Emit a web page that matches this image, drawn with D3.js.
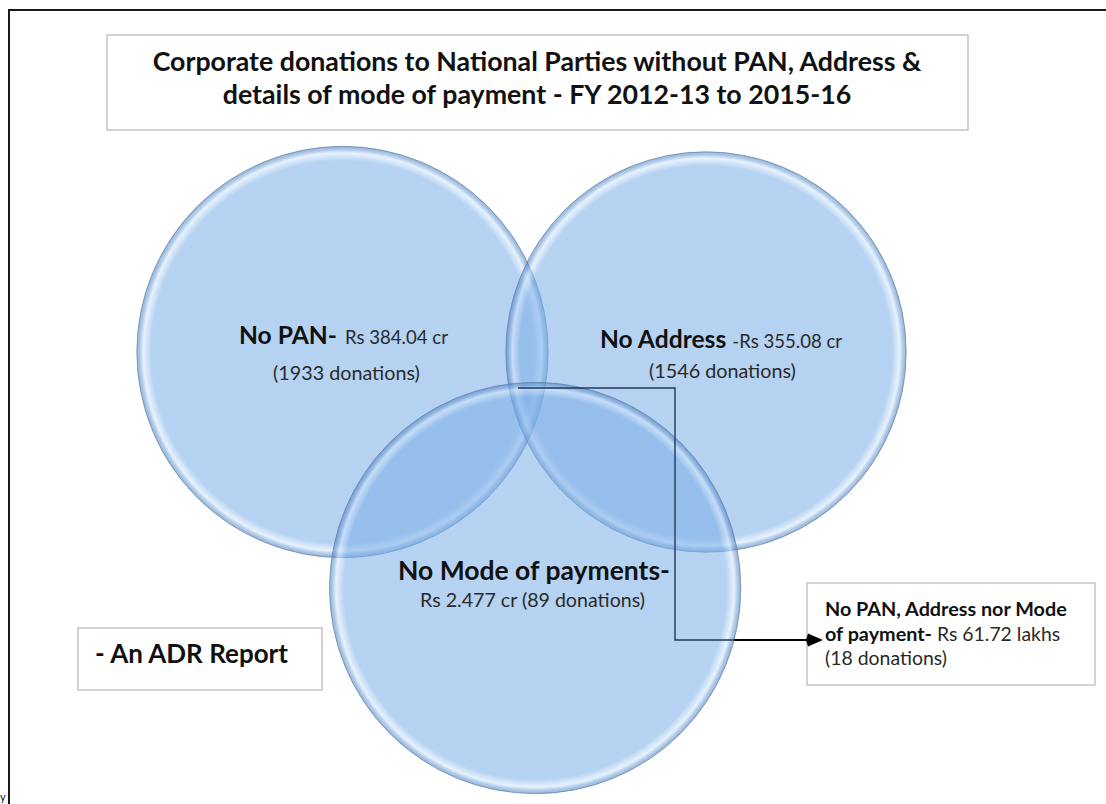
<!DOCTYPE html>
<html>
<head>
<meta charset="utf-8">
<script src="https://cdn.jsdelivr.net/npm/d3@7"></script>
<style>
  html, body { margin: 0; padding: 0; background: #fff; overflow: hidden; }
  svg { display: block; }
  text { font-family: Lato, "Open Sans", "DejaVu Sans", sans-serif; }
</style>
</head>
<body>
<svg id="chart" width="1106" height="804"></svg>
<script>
// ---------------- data ----------------
const TITLE_LINES = [
  "Corporate donations to National Parties without PAN, Address &",
  "details of mode of payment - FY 2012-13 to 2015-16"
];
const SET_NAMES = ["No PAN-", "No Address", "No Mode of payments-"];
const SET_AMOUNTS = ["Rs 384.04 cr", "-Rs 355.08 cr", "Rs 2.477 cr"];
const SET_DONATIONS = [1933, 1546, 89];
const ALL_THREE_NAME = ["No PAN, Address nor Mode", "of payment-"];
const ALL_THREE_AMOUNT = "Rs 61.72 lakhs";
const ALL_THREE_DONATIONS = 18;
const SOURCE_LABEL = "- An ADR Report";

// layout of the three (equal-size) Venn circles in abstract units
const CIRCLE_U = [-1, 1, 0.06];   // horizontal unit position
const CIRCLE_V = [0, 0, 1];       // vertical unit position
const CIRCLE_R = [1.13, 1.10, 1.13];

// ---------------- setup ----------------
const svg = d3.select("#chart");
const W = 1106, H = 804;

const x = d3.scaleLinear().domain([-1, 1]).range([342.5, 706]);
const y = d3.scaleLinear().domain([0, 1]).range([352, 588]);
const rs = d3.scaleLinear().domain([0, 1]).range([0, 182]);

function fit(sel, w) {
  const l = sel.node().getComputedTextLength();
  const fs = parseFloat(sel.attr("font-size"));
  sel.attr("font-size", fs * w / l);
  return fs * w / l;
}

// outer frame (top and left edges visible)
svg.append("line").attr("x1", 9).attr("y1", 10).attr("x2", W + 5).attr("y2", 10)
  .attr("stroke", "#1a1a1a").attr("stroke-width", 2);
svg.append("line").attr("x1", 9).attr("y1", 9).attr("x2", 9).attr("y2", H + 5)
  .attr("stroke", "#1a1a1a").attr("stroke-width", 2);
svg.append("text").attr("x", 0).attr("y", 801).attr("font-size", 11)
  .attr("fill", "#111").text("y");

// title box
svg.append("rect").attr("x", 107).attr("y", 35).attr("width", 861).attr("height", 95)
  .attr("fill", "#fff").attr("stroke", "#c4c4c4").attr("stroke-width", 1.5);
const t1 = svg.append("text").attr("x", 537).attr("y", 71).attr("text-anchor", "middle")
  .attr("font-weight", 700).attr("font-size", 22).attr("fill", "#111").text(TITLE_LINES[0]);
const titleFs = fit(t1, 769);
svg.append("text").attr("x", 537).attr("y", 104).attr("text-anchor", "middle")
  .attr("font-weight", 700).attr("font-size", titleFs).attr("fill", "#111").text(TITLE_LINES[1]);

// gradient for bevelled circles
const defs = svg.append("defs");
const grad = defs.append("radialGradient").attr("id", "bevel");
[
  [0, "rgb(122,174,231)"],
  [0.93, "rgb(122,174,231)"],
  [0.95, "rgb(170,205,242)"],
  [0.968, "rgb(212,230,250)"],
  [0.985, "rgb(108,158,216)"],
  [1, "rgb(70,112,168)"]
].forEach(([o, c]) => grad.append("stop").attr("offset", o).attr("stop-color", c));

const data = d3.range(3).map(i => ({
  name: SET_NAMES[i], amount: SET_AMOUNTS[i], n: SET_DONATIONS[i],
  cx: x(CIRCLE_U[i]), cy: y(CIRCLE_V[i]), r: rs(CIRCLE_R[i])
}));

// circles
svg.append("g").selectAll("circle").data(data).join("circle")
  .attr("cx", d => d.cx).attr("cy", d => d.cy).attr("r", d => d.r)
  .attr("fill", "url(#bevel)").attr("fill-opacity", 0.55)
  .attr("stroke", "rgb(95,130,175)").attr("stroke-opacity", 0.7).attr("stroke-width", 1);

// connector lines with arrow
const c3 = data[2];
const hx = c3.cx + Math.sqrt(c3.r * c3.r - 52 * 52);
svg.append("path")
  .attr("d", d3.line()([[518, 388], [675, 388], [675, 640], [hx, 640]]))
  .attr("fill", "none").attr("stroke", "#22395a").attr("stroke-width", 1.4);
svg.append("path")
  .attr("d", d3.line()([[hx, 640], [812, 640]]))
  .attr("fill", "none").attr("stroke", "#000").attr("stroke-width", 2);

// circle labels
function label(xs, ys, txt, w, bold, fs, col) {
  const t = svg.append("text").attr("x", xs).attr("y", ys)
    .attr("font-weight", bold ? 700 : 400).attr("font-size", fs)
    .attr("fill", col || (bold ? "#111" : "#2a2a2a")).text(txt);
  if (w) fit(t, w);
  return t;
}
const nameFs = (function () {
  const t = label(239, 344, data[0].name, 98, true, 22);
  return parseFloat(t.attr("font-size"));
})();
const amtT = label(345, 344, data[0].amount, 103, false, 16);
const amtFs = parseFloat(amtT.attr("font-size"));
const donT = label(273, 380, `(${data[0].n} donations)`, 147, false, 16);
const donFs = parseFloat(donT.attr("font-size"));

const na = label(600, 348, data[1].name, null, true, nameFs);
const naEnd = 600 + na.node().getComputedTextLength();
label(naEnd + 6, 348, data[1].amount, null, false, amtFs);
label(649, 378, `(${data[1].n} donations)`, null, false, donFs);

label(398, 580, data[2].name, 272, true, 22);
label(420, 607, `${data[2].amount} (${data[2].n} donations)`, 225, false, 16);

// callout box
svg.append("rect").attr("x", 807).attr("y", 583).attr("width", 288).attr("height", 102)
  .attr("fill", "#fff").attr("stroke", "#c4c4c4").attr("stroke-width", 1.5);
const cl1 = label(825, 616, ALL_THREE_NAME[0], 242, true, 17);
const clFs = parseFloat(cl1.attr("font-size"));
const cl2 = label(825, 641, ALL_THREE_NAME[1], null, true, clFs);
const cl2End = 825 + cl2.node().getComputedTextLength();
label(cl2End + 5, 641, ALL_THREE_AMOUNT, null, false, clFs * 0.98);
label(825, 665, `(${ALL_THREE_DONATIONS} donations)`, 122, false, clFs);

// arrow head (drawn over the box edge)
svg.append("path").attr("d", "M806,640L808,633.5L823,640L808,646.5Z").attr("fill", "#000");

// source box
svg.append("rect").attr("x", 78).attr("y", 628).attr("width", 244).attr("height", 62)
  .attr("fill", "#fff").attr("stroke", "#c4c4c4").attr("stroke-width", 1.5);
label(95, 663, SOURCE_LABEL, 193, true, 22);
</script>
</body>
</html>
